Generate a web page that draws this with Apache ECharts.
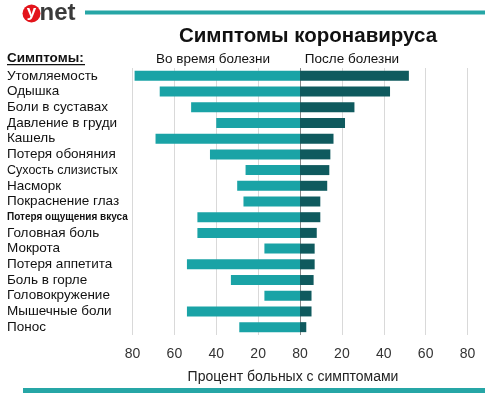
<!DOCTYPE html>
<html><head><meta charset="utf-8">
<script src="https://cdn.jsdelivr.net/npm/echarts@6/dist/echarts.min.js"></script>
<style>html,body{margin:0;padding:0;background:#fff}#c{width:490px;height:393px}</style>
</head><body><div id="c"></div>
<script>
const categories = ['Утомляемость','Одышка','Боли в суставах','Давление в груди','Кашель','Потеря обоняния','Сухость слизистых','Насморк','Покраснение глаз','Потеря ощущения вкуса','Головная боль','Мокрота','Потеря аппетита','Боль в горле','Головокружение','Мышечные боли','Понос'];
const during = [79, 67, 52, 40, 69, 43, 26, 30, 27, 49, 49, 17, 54, 33, 17, 54, 29];
const after = [52, 43, 26, 21.5, 16, 14.5, 14, 13, 9.7, 9.7, 8, 7, 7, 6.5, 5.5, 5.5, 3];
const tickLabels = {'-80':'80','-60':'60','-40':'40','-20':'20','0':'80','20':'20','40':'40','60':'60','80':'80'};
const smallLabels = {'Сухость слизистых':'m','Потеря ощущения вкуса':'s'};

const FONT = '"Liberation Sans", Arial, sans-serif';
const chart = echarts.init(document.getElementById('c'), null, {renderer:'canvas'});
chart.setOption({
  animation:false,
  grid:{left:132.5, right:22.5, top:68, bottom:58},
  xAxis:{type:'value', min:-80, max:80, interval:20,
    axisLine:{show:false}, axisTick:{show:false},
    splitLine:{show:true, lineStyle:{color:['#d9d9d9','#d9d9d9','#d9d9d9','#d9d9d9','#8a8a8a','#d9d9d9','#d9d9d9','#d9d9d9','#d9d9d9'], width:1}},
    axisLabel:{formatter:v=>tickLabels[String(v)], fontFamily:FONT, fontSize:14, color:'#333', margin:12}
  },
  yAxis:{type:'category', data:categories, inverse:true,
    axisLine:{show:false}, axisTick:{show:false}, splitLine:{show:false},
    axisLabel:{interval:0, align:'left', margin:125.5, fontFamily:FONT, fontSize:13.5, color:'#111',
      formatter:v=> smallLabels[v] ? '{'+smallLabels[v]+'|'+v+'}' : v,
      rich:{s:{fontFamily:FONT, fontSize:10, fontWeight:'bold', color:'#111'}, m:{fontFamily:FONT, fontSize:12.5, color:'#111'}}}
  },
  series:[
    {type:'bar', name:'Во время болезни', data:during.map(v=>-v), barWidth:10, barGap:'-100%', itemStyle:{color:'#1aa3a6'}, silent:true},
    {type:'bar', name:'После болезни', data:after, barWidth:10, barGap:'-100%', itemStyle:{color:'#0f5a5e'}, silent:true}
  ],
  graphic:[
    {type:'circle', shape:{cx:31.5, cy:13.5, r:9}, style:{fill:'#e3141b'}},
    {type:'text', x:31.5, y:12.5, style:{text:'y', font:'bold 17px '+FONT, fill:'#fff', align:'center', verticalAlign:'middle'}},
    {type:'text', x:39.5, y:13.5, style:{text:'net', font:'bold 24px "Liberation Sans Narrow", '+FONT, fill:'#3a3a3a', verticalAlign:'middle'}},
    {type:'rect', shape:{x:85, y:10.5, width:400, height:4}, style:{fill:'#26a6a6'}},
    {type:'rect', shape:{x:23, y:388, width:462, height:6}, style:{fill:'#26a6a6'}},
    {type:'text', x:308, y:36, style:{text:'Симптомы коронавируса', font:'bold 20.5px '+FONT, fill:'#111', align:'center', verticalAlign:'middle'}},
    {type:'text', x:7, y:58, style:{text:'Симптомы:', font:'bold 13.5px '+FONT, fill:'#111', verticalAlign:'middle'}},
    {type:'rect', shape:{x:7, y:64, width:78, height:1.3}, style:{fill:'#111'}},
    {type:'text', x:213, y:59, style:{text:'Во время болезни', font:'13.5px '+FONT, fill:'#111', align:'center', verticalAlign:'middle'}},
    {type:'text', x:352, y:59, style:{text:'После болезни', font:'13.5px '+FONT, fill:'#111', align:'center', verticalAlign:'middle'}},
    {type:'text', x:293, y:377, style:{text:'Процент больных с симптомами', font:'14px '+FONT, fill:'#222', align:'center', verticalAlign:'middle'}}
  ]
});
</script></body></html>
